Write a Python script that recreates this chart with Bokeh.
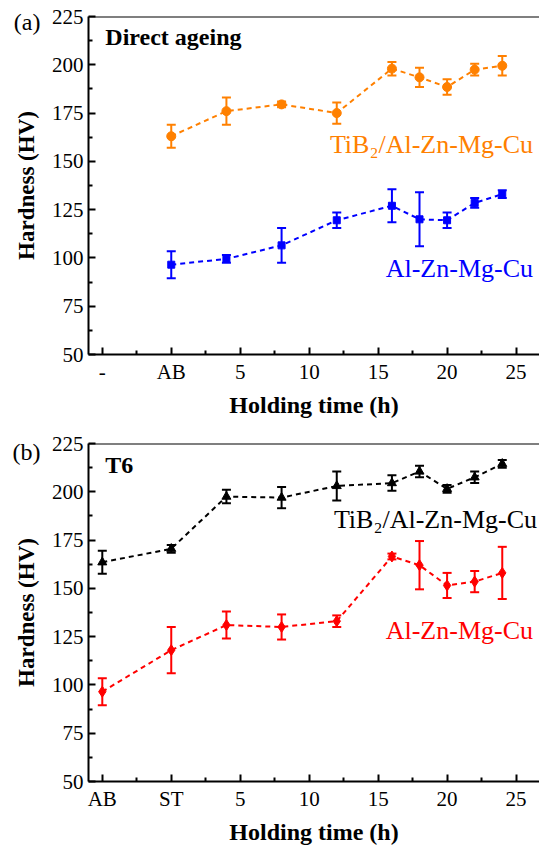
from bokeh.plotting import figure
from bokeh.layouts import column
from bokeh.models import (ColumnDataSource, Whisker, TeeHead, FixedTicker, Span, Label,
                          LinearAxis)
from bokeh.embed import file_html
from bokeh.resources import INLINE

# ---------------- data ----------------
# (a) Direct ageing
a_time = [0, 4, 8, 12, 16, 18, 20, 22, 24]
a_tib2 = [163, 176, 179.5, 175, 198, 193.5, 188.5, 197.5, 199.5]
a_tib2_err = [6, 7, 1.5, 5.5, 3.5, 5, 4, 3, 5]
a_base = [96.5, 99.5, 106.5, 119.5, 127, 120, 119.5, 128.5, 133]
a_base_err = [7, 2, 9, 4, 8.5, 14, 4, 2.5, 2]

# (b) T6
b_time = [-5, 0, 4, 8, 12, 16, 18, 20, 22, 24]
b_tib2 = [163.5, 170.5, 197.5, 197, 203, 204.5, 210.5, 201.5, 207.5, 214.5]
b_tib2_err = [6, 2, 3.5, 5.5, 7.5, 4, 3, 2, 3, 2]
b_base = [96.5, 118, 131, 130, 133, 166.5, 162, 151.5, 153.5, 158]
b_base_err = [7, 12, 7, 6.5, 3, 1.5, 12.5, 6.5, 5.5, 13.5]

a_xtick_labels = ["-", "AB", "5", "10", "15", "20", "25"]
b_xtick_labels = ["AB", "ST", "5", "10", "15", "20", "25"]
y_ticks = [50, 75, 100, 125, 150, 175, 200, 225]

series_names = ["TiB\u2082/Al-Zn-Mg-Cu", "Al-Zn-Mg-Cu"]
panel_tags = ["(a)", "(b)"]

FONT = "Liberation Serif"
ORANGE = "#FF8000"
BLUE = "#0000FF"
RED = "#FF0000"
BLACK = "#000000"


def make_fig(height, border_top, border_bottom, xticks, xlabels, xminor, tag, tag_y):
    p = figure(width=539, height=height, x_range=(-6.0, 26.7), y_range=(50, 225),
               output_backend="svg", toolbar_location=None,
               min_border_left=88, min_border_right=0,
               min_border_top=border_top, min_border_bottom=border_bottom)
    p.outline_line_color = None
    p.grid.visible = False
    p.xaxis.axis_label = "Holding time (h)"
    p.yaxis.axis_label = "Hardness (HV)"
    p.xaxis.ticker = FixedTicker(ticks=xticks, minor_ticks=xminor)
    p.xaxis.major_label_overrides = {t: l for t, l in zip(xticks, xlabels)}
    p.yaxis.ticker = FixedTicker(ticks=y_ticks,
                                 minor_ticks=[v + 12.5 for v in y_ticks[:-1]])
    for ax in (p.xaxis[0], p.yaxis[0]):
        ax.axis_line_width = 2
        ax.major_tick_line_width = 2
        ax.minor_tick_line_width = 2
        ax.major_tick_in = 7
        ax.major_tick_out = 0
        ax.minor_tick_in = 4
        ax.minor_tick_out = 0
        ax.major_label_text_font = FONT
        ax.major_label_text_font_size = "21px"
        ax.major_label_text_color = "black"
        ax.major_label_standoff = 5
        ax.axis_label_text_font = FONT
        ax.axis_label_text_font_style = "bold"
        ax.axis_label_text_color = "black"
    p.xaxis.axis_label_text_font_size = "24px"
    p.yaxis.axis_label_text_font_size = "23px"
    p.xaxis.axis_label_standoff = 5
    p.yaxis.axis_label_standoff = 10
    p.add_layout(Span(location=225, dimension="width", line_color="black", line_width=2))
    # panel tag "(a)" / "(b)" drawn as a bare outer axis label (not clipped by the frame)
    tag_axis = LinearAxis(ticker=FixedTicker(ticks=[tag_y], minor_ticks=[]),
                          major_label_overrides={tag_y: tag},
                          axis_line_color=None, major_tick_line_color=None,
                          minor_tick_line_color=None,
                          major_tick_in=0, major_tick_out=0,
                          major_label_standoff=-30,
                          major_label_text_font=FONT,
                          major_label_text_font_size="24px",
                          major_label_text_color="black")
    p.add_layout(tag_axis, "left")
    return p


def add_series(p, x, y, err, color, marker, size):
    src = ColumnDataSource(dict(x=x, y=y,
                                lo=[v - e for v, e in zip(y, err)],
                                hi=[v + e for v, e in zip(y, err)]))
    p.line("x", "y", source=src, line_color=color, line_width=2, line_dash="5 4")
    p.add_layout(Whisker(source=src, base="x", lower="lo", upper="hi",
                         line_color=color, line_width=2,
                         upper_head=TeeHead(size=9, line_color=color, line_width=2),
                         lower_head=TeeHead(size=9, line_color=color, line_width=2)))
    p.scatter("x", "y", source=src, marker=marker, size=size,
              fill_color=color, line_color=color)


def text(p, x, y, s, color="black", size="26px", style="normal", align="left"):
    p.add_layout(Label(x=x, y=y, text=s, text_color=color, text_font=FONT,
                       text_font_size=size, text_font_style=style, text_align=align,
                       text_baseline="alphabetic"))


# ---------------- panel (a) ----------------
pa = make_fig(420, 16, 61, [-5, 0, 5, 10, 15, 20, 25], a_xtick_labels,
              [-2.5, 2.5, 7.5, 12.5, 17.5, 22.5], panel_tags[0], 221.9)
add_series(pa, a_time, a_tib2, a_tib2_err, ORANGE, "circle", 9)
add_series(pa, a_time, a_base, a_base_err, BLUE, "square", 7)
text(pa, -4.78, 214.3, "Direct ageing", size="24px", style="bold")
text(pa, 26.23, 158.7, series_names[0], color=ORANGE, align="right")
text(pa, 26.23, 94.4, series_names[1], color=BLUE, align="right")

# ---------------- panel (b) ----------------
pb = make_fig(427, 23, 63, [-5, 0, 5, 10, 15, 20, 25], b_xtick_labels,
              [-2.5, 2.5, 7.5, 12.5, 17.5, 22.5], panel_tags[1], 220.4)
add_series(pb, b_time, b_tib2, b_tib2_err, BLACK, "triangle", 9)
add_series(pb, b_time, b_base, b_base_err, RED, "diamond", 11)
text(pb, -4.78, 213.9, "T6", size="24px", style="bold")
text(pb, 26.52, 185.5, series_names[0], color=BLACK, align="right")
text(pb, 26.23, 128, series_names[1], color=RED, align="right")

layout = column(pa, pb)
open("out.html", "w").write(file_html(layout, INLINE))
